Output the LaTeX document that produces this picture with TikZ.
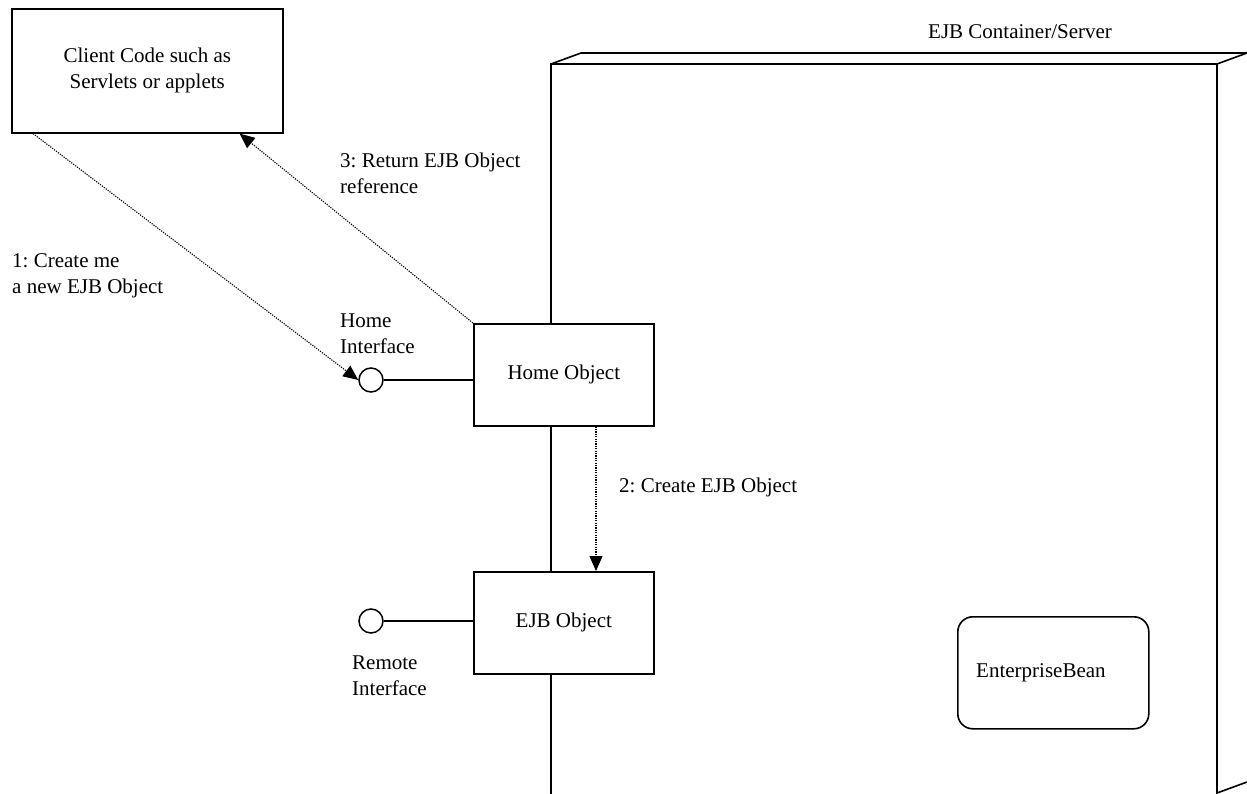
\documentclass[tikz,border=0pt]{standalone}
\usepackage{fontspec}
\setmainfont{Liberation Serif}
\usetikzlibrary{arrows.meta,calc}
\frenchspacing
\begin{document}
\begin{tikzpicture}[x=1pt,y=-1pt,
  every node/.style={font=\fontsize{21}{26}\selectfont},
  box/.style={draw, line width=1.6pt, fill=white, inner sep=0pt, anchor=north west},
  iface/.style={draw, circle, line width=1.5pt, fill=white, minimum size=24pt, inner sep=0pt},
  msg/.style={line width=1.1pt, dash pattern=on 1.2pt off 1.2pt, -{Triangle[length=15pt,width=13pt]}},
  wire/.style={line width=1.6pt},
  lbl/.style={align=left, anchor=north west, inner sep=0pt}]
\useasboundingbox (0,0) rectangle (1247,794);

% container drawn as an open 3D box
\coordinate (ftl) at (551,64);
\coordinate (ftr) at (1217,64);
\coordinate (btl) at (581,53);
\coordinate (btr) at (1247,53);
\coordinate (fbl) at (551,794);
\coordinate (fbr) at (1217,793);
\coordinate (bbr) at (1247,782);
\draw[wire, line join=miter] (fbl) -- (ftl) -- (ftr) -- (fbr) -- (bbr);
\draw[wire, line join=miter] (ftl) -- (btl) -- (btr) -- (ftr);
\node[anchor=base west, inner sep=0pt] (cont) at (928,39) {EJB Container/Server};

% client
\node[box, minimum width=271pt, minimum height=124pt, align=center] (client) at (11,8)
  {Client Code such as\\Servlets or applets};

% objects inside the container
\node[box, minimum width=180pt, minimum height=102pt] (homeobj) at (473,323) {Home Object};
\node[box, minimum width=180pt, minimum height=102pt] (ejbobj) at (473,571) {EJB Object};
\node[box, rounded corners=15pt, minimum width=191pt, minimum height=112pt] (bean) at (957,616) {};
\node[anchor=base west, inner sep=0pt] (beantxt) at (976,677) {EnterpriseBean};

% interfaces
\node[iface] (homeif) at (371,380) {};
\node[iface] (remoteif) at (371,621) {};
\draw[wire] (homeif.east) -- (homeif -| homeobj.west);
\draw[wire] (remoteif.east) -- (remoteif -| ejbobj.west);
\node[lbl] (homelbl) at (340,314) {Home\\Interface};
\node[lbl] (remotelbl) at (352,656) {Remote\\Interface};

% messages
\coordinate (c1) at ($(client.south west)+(22,0)$);
\coordinate (c3) at ($(client.south east)+(-44,0)$);
\coordinate (h2) at ($(homeobj.south west)+(123,0)$);
\draw[msg] (c1) -- (homeif.west);
\draw[msg] (homeobj.north west) -- (c3);
\draw[msg] (h2) -- (h2 |- ejbobj.north);

\node[lbl] (m1) at (12,253) {1: Create me\\a new EJB Object};
\node[lbl] (m2) at (619,478) {2: Create EJB Object};
\node[lbl] (m3) at (340,153) {3: Return EJB Object\\reference};
\end{tikzpicture}
\end{document}
